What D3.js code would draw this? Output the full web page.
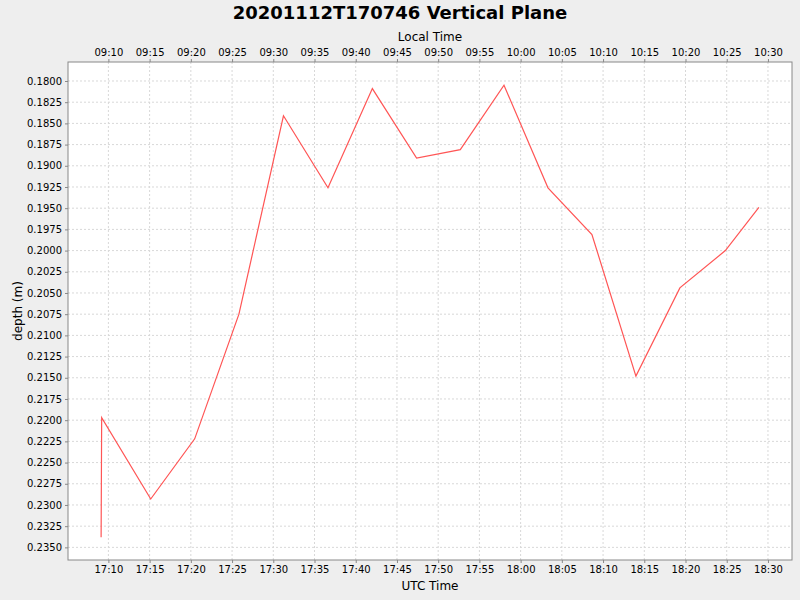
<!DOCTYPE html>
<html>
<head>
<meta charset="utf-8">
<script src="https://cdn.jsdelivr.net/npm/d3@7"></script>
<style>
  body { margin: 0; background: #eeeeee; }
  text { font-family: "DejaVu Sans", sans-serif; }
</style>
</head>
<body>
<script>
// Chart data (UTC times and depth in metres)
var utcTimes = ["17:09:07", "17:09:11", "17:15:08", "17:20:28", "17:25:50", "17:31:14",
  "17:36:38", "17:42:01", "17:47:23", "17:52:41", "17:57:59", "18:03:19",
  "18:08:39", "18:13:59", "18:19:19", "18:24:50", "18:28:54"];
var depths = [0.2338, 0.2197, 0.2293, 0.2222, 0.2075, 0.1841,
  0.1926, 0.1809, 0.1891, 0.1881, 0.1805, 0.1926,
  0.1981, 0.2148, 0.2044, 0.2000, 0.1949];
var depthTicks = [0.1800, 0.1825, 0.1850, 0.1875, 0.1900, 0.1925, 0.1950, 0.1975,
  0.2000, 0.2025, 0.2050, 0.2075, 0.2100, 0.2125, 0.2150, 0.2175,
  0.2200, 0.2225, 0.2250, 0.2275, 0.2300, 0.2325, 0.2350];
var timeDomain = ["17:05:06", "18:32:55"];
var depthDomain = [0.17776, 0.23649];
var localOffsetHours = -8;

var svgWidth = 800;
var svgHeight = 600;
var margin = { top: 62, right: 8, bottom: 40, left: 68 };
var chartWidth = svgWidth - margin.left - margin.right;
var chartHeight = svgHeight - margin.top - margin.bottom;

var parseTime = d3.utcParse("%Y-%m-%d %H:%M:%S");
function toDate(s) { return parseTime("2020-11-12 " + s); }

var data = utcTimes.map(function(t, i) {
  return { time: toDate(t), depth: depths[i] };
});

var svg = d3.select("body")
  .append("svg")
  .attr("width", svgWidth)
  .attr("height", svgHeight);

svg.append("rect")
  .attr("width", svgWidth)
  .attr("height", svgHeight)
  .attr("fill", "#eeeeee");

var chartGroup = svg.append("g")
  .attr("transform", `translate(${margin.left}, ${margin.top})`);

var xScale = d3.scaleUtc()
  .domain(timeDomain.map(toDate))
  .range([0, chartWidth]);

// local time axis shares the same pixels, shifted by the offset
var xLocal = d3.scaleUtc()
  .domain(xScale.domain().map(function(d) { return d3.utcHour.offset(d, localOffsetHours); }))
  .range([0, chartWidth]);

var yScale = d3.scaleLinear()
  .domain(depthDomain)
  .range([0, chartHeight]);

var xTicks = d3.utcMinute.every(5).range(xScale.domain()[0], xScale.domain()[1]);
var xLocalTicks = d3.utcMinute.every(5).range(xLocal.domain()[0], xLocal.domain()[1]);

// plot background
chartGroup.append("rect")
  .attr("width", chartWidth)
  .attr("height", chartHeight)
  .attr("fill", "#ffffff");

// gridlines
chartGroup.append("g")
  .selectAll("line")
  .data(xTicks)
  .enter()
  .append("line")
  .attr("x1", d => xScale(d))
  .attr("x2", d => xScale(d))
  .attr("y1", 0)
  .attr("y2", chartHeight)
  .attr("stroke", "#d8d8d8")
  .attr("stroke-dasharray", "2,2");

chartGroup.append("g")
  .selectAll("line")
  .data(depthTicks)
  .enter()
  .append("line")
  .attr("x1", 0)
  .attr("x2", chartWidth)
  .attr("y1", d => yScale(d))
  .attr("y2", d => yScale(d))
  .attr("stroke", "#d8d8d8")
  .attr("stroke-dasharray", "2,2");

// axes
var bottomAxis = d3.axisBottom(xScale).tickValues(xTicks)
  .tickFormat(d3.utcFormat("%H:%M")).tickSize(3).tickSizeOuter(0);
var topAxis = d3.axisTop(xLocal).tickValues(xLocalTicks)
  .tickFormat(d3.utcFormat("%H:%M")).tickSize(3).tickSizeOuter(0);
var leftAxis = d3.axisLeft(yScale).tickValues(depthTicks)
  .tickFormat(d3.format(".4f")).tickSize(3).tickSizeOuter(0);

function styleAxis(g) {
  g.select(".domain").remove();
  g.selectAll(".tick line").attr("stroke", "#888888");
  g.selectAll(".tick text")
    .attr("fill", "#000000")
    .style("font-size", "10px")
    .style("font-family", "DejaVu Sans");
}

chartGroup.append("g")
  .attr("transform", `translate(0, ${chartHeight})`)
  .call(bottomAxis)
  .call(styleAxis);

chartGroup.append("g")
  .call(topAxis)
  .call(styleAxis);

chartGroup.append("g")
  .call(leftAxis)
  .call(styleAxis);

// plot border
chartGroup.append("rect")
  .attr("width", chartWidth)
  .attr("height", chartHeight)
  .attr("fill", "none")
  .attr("stroke", "#888888");

// data line
var line = d3.line()
  .x(d => xScale(d.time))
  .y(d => yScale(d.depth));

chartGroup.append("path")
  .datum(data)
  .attr("fill", "none")
  .attr("stroke", "#ff5555")
  .attr("stroke-width", 1.2)
  .attr("d", line);

// titles
svg.append("text")
  .attr("x", svgWidth / 2)
  .attr("y", 19)
  .attr("text-anchor", "middle")
  .style("font-size", "18px")
  .style("font-weight", "bold")
  .text("20201112T170746 Vertical Plane");

svg.append("text")
  .attr("x", margin.left + chartWidth / 2)
  .attr("y", 41)
  .attr("text-anchor", "middle")
  .style("font-size", "12px")
  .text("Local Time");

svg.append("text")
  .attr("x", margin.left + chartWidth / 2)
  .attr("y", 590)
  .attr("text-anchor", "middle")
  .style("font-size", "12px")
  .text("UTC Time");

svg.append("text")
  .attr("transform", `translate(22, ${margin.top + chartHeight / 2}) rotate(-90)`)
  .attr("text-anchor", "middle")
  .style("font-size", "12px")
  .text("depth (m)");
</script>
</body>
</html>
